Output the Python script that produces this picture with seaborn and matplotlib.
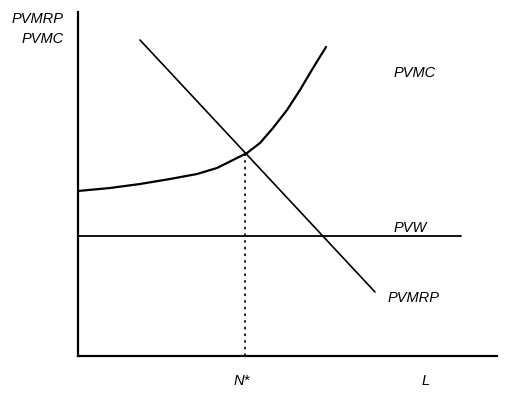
import matplotlib
matplotlib.use("Agg")
import matplotlib.pyplot as plt
import seaborn as sns

# Data (units: diagram coordinates, origin at axes corner)
mc_x = [0, 32, 62, 92, 119, 139, 155, 169, 182, 195, 209, 222, 235, 248]
mc_y = [165, 168, 172, 177, 182, 188, 196, 203, 213, 228, 246, 266, 288, 309]
mrp_x = [62, 297]
mrp_y = [316, 64]
pvw_x = [0, 383]
pvw_y = [120, 120]
n_star = 167
n_star_y = 204

sns.set_style("white")
plt.rcParams['font.family'] = ['Liberation Sans', 'DejaVu Sans']

W, H = 511, 396
fig = plt.figure(figsize=(W / 100, H / 100), dpi=100)
x0, y0, x1, y1 = 78, 356, 497, 12
ax = fig.add_axes([x0 / W, (H - y0) / H, (x1 - x0) / W, (y0 - y1) / H])
ax.set_xlim(0, x1 - x0)
ax.set_ylim(0, y0 - y1)

sns.lineplot(x=mc_x, y=mc_y, ax=ax, color="black", lw=1.6, sort=False)
sns.lineplot(x=mrp_x, y=mrp_y, ax=ax, color="black", lw=1.2)
sns.lineplot(x=pvw_x, y=pvw_y, ax=ax, color="black", lw=1.3)
ax.plot([n_star, n_star], [0, n_star_y], color="black", lw=1.2, ls=(0, (1.5, 2.5)))

for s in ["top", "right"]:
    ax.spines[s].set_visible(False)
for s in ["left", "bottom"]:
    ax.spines[s].set_color("black")
    ax.spines[s].set_linewidth(1.6)
ax.set_xticks([])
ax.set_yticks([])

kw = dict(fontsize=10.5, style="italic", color="black", clip_on=False)
ax.text(-14, 337, "PVMRP", ha="right", va="center", **kw)
ax.text(-14, 317, "PVMC", ha="right", va="center", **kw)
ax.text(337, 283, "PVMC", ha="center", va="center", **kw)
ax.text(332, 128, "PVW", ha="center", va="center", **kw)
ax.text(336, 58, "PVMRP", ha="center", va="center", **kw)
ax.text(n_star - 3, -25, "N*", ha="center", va="center", **kw)
ax.text(348, -25, "L", ha="center", va="center", **kw)

fig.savefig("out.png", dpi=100)
